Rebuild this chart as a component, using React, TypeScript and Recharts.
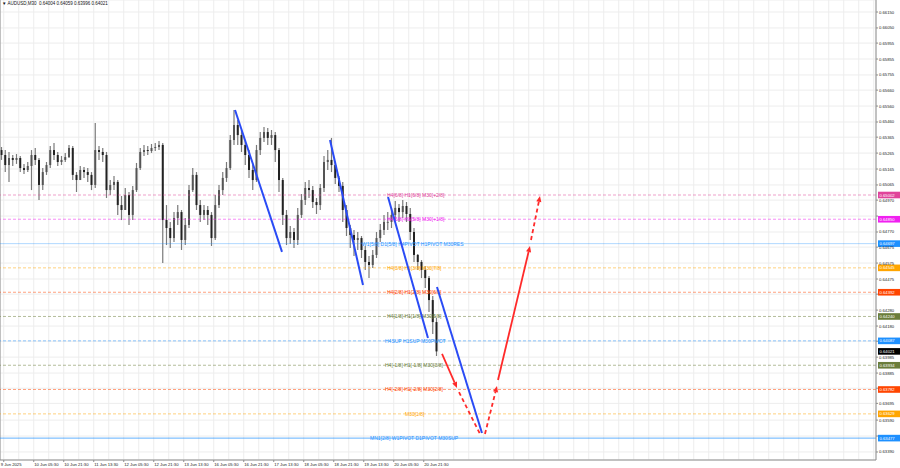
import React from 'react';
import { ComposedChart, Bar, XAxis, YAxis, CartesianGrid, ReferenceLine } from 'recharts';

const FONT = '"Liberation Sans", Arial, sans-serif';

const chartTitle = 'AUDUSD,M30  0.64004 0.64059 0.63996 0.64021';

// time axis (bar index of M30 bars -> label)
const xLabelBars = [4, 36, 68, 100, 132, 164, 196, 228, 260, 292, 324, 356, 388, 420, 452];
const xTickLabels = [
  '9 Jun 2025', '10 Jun 05:30', '10 Jun 21:30', '11 Jun 13:30', '12 Jun 05:30',
  '12 Jun 21:30', '13 Jun 13:30', '16 Jun 05:30', '16 Jun 21:30', '17 Jun 13:30',
  '18 Jun 05:30', '18 Jun 21:30', '19 Jun 13:30', '20 Jun 05:30', '20 Jun 21:30',
];
const gridTicks = Array.from({ length: 59 }, (_, k) => 4 + 16 * k);

const yTickLabels = [
  '0.66150', '0.66050', '0.65955', '0.65855', '0.65755', '0.65660', '0.65560', '0.65460',
  '0.65365', '0.65265', '0.65165', '0.65065', '0.64970', '0.64870', '0.64770', '0.64675',
  '0.64575', '0.64475', '0.64380', '0.64280', '0.64180', '0.64085', '0.63985', '0.63885',
  '0.63790', '0.63695', '0.63590', '0.63490', '0.63390',
];
const yTicks = yTickLabels.map(Number);
// price scale labels covered by the level boxes
const coveredTickLabels = ['0.64870', '0.64380', '0.64085', '0.63790', '0.63490'];

// 2-hour candles (4 x M30)
const firstOpen = 0.65284;
const closes = [
  0.65253, 0.65190, 0.65234, 0.65222, 0.65234, 0.65171, 0.65159, 0.65184, 0.65253, 0.65222,
  0.65065, 0.65146, 0.65190, 0.65284, 0.65253, 0.65209, 0.65222, 0.65240, 0.65297, 0.65128,
  0.65096, 0.65159, 0.65146, 0.65128, 0.65065, 0.65284, 0.65272, 0.65253, 0.65033, 0.65065,
  0.65084, 0.64939, 0.64908, 0.65002, 0.64877, 0.65033, 0.65171, 0.65272, 0.65284, 0.65278,
  0.65297, 0.65303, 0.65316, 0.64845, 0.64795, 0.64732, 0.64858, 0.64895, 0.64720, 0.64814,
  0.65033, 0.65128, 0.64939, 0.64877, 0.64908, 0.64877, 0.64732, 0.64939, 0.65033, 0.65109,
  0.65171, 0.65347, 0.65441, 0.65378, 0.65316, 0.65253, 0.65159, 0.65096, 0.65284, 0.65360,
  0.65397, 0.65360, 0.65378, 0.65284, 0.65096, 0.64877, 0.64732, 0.64770, 0.64720, 0.64877,
  0.64971, 0.65046, 0.65033, 0.64958, 0.64939, 0.65046, 0.65209, 0.65222, 0.65190, 0.65109,
  0.65059, 0.64908, 0.64795, 0.64751, 0.64720, 0.64732, 0.64657, 0.64582, 0.64563, 0.64626,
  0.64732, 0.64783, 0.64833, 0.64833, 0.64877, 0.64921, 0.64895, 0.64933, 0.64883, 0.64770,
  0.64626, 0.64582, 0.64532, 0.64481, 0.64343, 0.64205, 0.64021,
];
const highs = [
  0.65303, 0.65284, 0.65272, 0.65253, 0.65259, 0.65247, 0.65197, 0.65209, 0.65284, 0.65297,
  0.65234, 0.65171, 0.65209, 0.65309, 0.65328, 0.65272, 0.65247, 0.65266, 0.65316, 0.65309,
  0.65146, 0.65184, 0.65178, 0.65171, 0.65146, 0.65454, 0.65309, 0.65297, 0.65272, 0.65096,
  0.65121, 0.65096, 0.64996, 0.65046, 0.65021, 0.65059, 0.65203, 0.65297, 0.65316, 0.65309,
  0.65322, 0.65328, 0.65341, 0.65328, 0.64939, 0.64833, 0.64895, 0.64939, 0.64908, 0.64858,
  0.65065, 0.65171, 0.65146, 0.64971, 0.64939, 0.64933, 0.64895, 0.65002, 0.65065, 0.65146,
  0.65209, 0.65378, 0.65535, 0.65473, 0.65410, 0.65347, 0.65284, 0.65190, 0.65316, 0.65397,
  0.65429, 0.65422, 0.65410, 0.65397, 0.65297, 0.65109, 0.64908, 0.64808, 0.64795, 0.64921,
  0.65008, 0.65084, 0.65096, 0.65059, 0.64983, 0.65071, 0.65247, 0.65284, 0.65360, 0.65209,
  0.65121, 0.65084, 0.64939, 0.64814, 0.64783, 0.64770, 0.64745, 0.64682, 0.64619, 0.64657,
  0.64770, 0.64820, 0.64877, 0.64895, 0.64921, 0.64964, 0.64946, 0.64971, 0.64958, 0.64921,
  0.64795, 0.64632, 0.64594, 0.64557, 0.64494, 0.64369, 0.64231,
];
const lows = [
  0.65222, 0.65146, 0.65084, 0.65184, 0.65197, 0.65146, 0.65134, 0.65146, 0.65033, 0.65190,
  0.64971, 0.65033, 0.65128, 0.65171, 0.65222, 0.65184, 0.65190, 0.65209, 0.65234, 0.65096,
  0.65021, 0.65096, 0.65109, 0.65084, 0.65033, 0.65046, 0.65222, 0.65209, 0.64983, 0.65002,
  0.65033, 0.64877, 0.64845, 0.64908, 0.64814, 0.64845, 0.65021, 0.65159, 0.65247, 0.65253,
  0.65266, 0.65278, 0.65284, 0.64576, 0.64688, 0.64670, 0.64707, 0.64814, 0.64657, 0.64688,
  0.64795, 0.65021, 0.64908, 0.64833, 0.64845, 0.64814, 0.64682, 0.64720, 0.64921, 0.65002,
  0.65084, 0.65159, 0.65316, 0.65316, 0.65272, 0.65190, 0.65109, 0.65033, 0.65084, 0.65253,
  0.65335, 0.65316, 0.65316, 0.65209, 0.65021, 0.64814, 0.64688, 0.64695, 0.64670, 0.64688,
  0.64858, 0.64939, 0.64983, 0.64921, 0.64883, 0.64908, 0.65021, 0.65159, 0.65146, 0.65071,
  0.65021, 0.64833, 0.64745, 0.64670, 0.64619, 0.64657, 0.64607, 0.64532, 0.64481, 0.64544,
  0.64607, 0.64707, 0.64751, 0.64783, 0.64795, 0.64845, 0.64833, 0.64858, 0.64833, 0.64720,
  0.64582, 0.64532, 0.64481, 0.64419, 0.64268, 0.64130, 0.63992,
];

const candles = closes.map((close, i) => ({
  t: 4 * i + 2,
  open: i === 0 ? firstOpen : closes[i - 1],
  high: highs[i],
  low: lows[i],
  close,
}));

// murrey-style levels
const levelPrices = [0.65002, 0.64850, 0.64697, 0.64545, 0.64392, 0.64240, 0.64087, 0.63934, 0.63782, 0.63629, 0.63477];
const levelTexts = [
  'H4[6/8] H1[6/8] M30[+2/8]',
  'H4[5/8] H1[5/8] M30[+1/8]',
  'W1[5/8] D1[5/8] H4PIVOT H1PIVOT M30RES',
  'H4[3/8] H1[3/8] M30[7/8]',
  'H4[2/8] H1[2/8] M30[6/8]',
  'H4[1/8] H1[1/8] M30[5/8]',
  'H4SUP H1SUP M30PIVOT',
  'H4[-1/8] H1[-1/8] M30[3/8]',
  'H4[-2/8] H1[-2/8] M30[2/8]',
  'M30[1/8]',
  'MN1[2/8] W1PIVOT D1PIVOT M30SUP',
];
const lastPrice = 0.64021;

// styles / positions for levels
const levelColors = ['#e0449a', '#f020f0', '#1e90ff', '#ffa500', '#ff4500', '#6b7d3a', '#1e90ff', '#6b7d3a', '#ff4500', '#ffa500', '#1e90ff'];
const levelSolid = [false, false, true, false, false, false, false, false, false, false, true];
const levelOpacity = [0.5, 0.5, 0.35, 0.5, 0.5, 0.5, 0.5, 0.5, 0.5, 0.5, 0.7];
const levelTextX = [387, 387, 362, 387, 387, 387, 385, 385, 385, 405, 370];

// trend lines [bar, price]
const trendFrom = [[250.7, 0.65535], [352, 0.65347], [413.9, 0.6499], [466.1, 0.64425]];
const trendTo = [[300.8, 0.64645], [387.2, 0.64437], [456.5, 0.64105], [514.1, 0.63509]];

// projection path
const projFrom = [[471.5, 0.64005], [489.6, 0.63766], [517.3, 0.63503], [531.2, 0.63842], [566.4, 0.6472]];
const projTo = [[487.5, 0.63791], [512, 0.63503], [530.1, 0.63804], [565.3, 0.64682], [576, 0.64996]];
const projDashed = [false, true, true, false, true];
const projHead = [true, false, true, true, true];

function Candle(props: any) {
  const { x, y, width, height, payload } = props;
  if (!payload || y == null || height == null) return <g />;
  const top = Math.min(y, y + height);
  const h = Math.abs(height);
  const span = payload.high - payload.low || 1e-9;
  const toY = (v: number) => top + ((payload.high - v) / span) * h;
  const cx = x + width / 2;
  const yo = toY(payload.open);
  const yc = toY(payload.close);
  const bodyTop = Math.min(yo, yc);
  const bodyH = Math.max(Math.abs(yc - yo), 0.8);
  return (
    <g>
      <line x1={cx} x2={cx} y1={top} y2={top + h} stroke="#7a7a7a" strokeWidth={1.2} />
      <rect x={cx - 1} y={bodyTop} width={2} height={bodyH} fill={payload.close >= payload.open ? '#555' : '#222'} />
    </g>
  );
}

function TimeTick(props: any) {
  const { x, payload } = props;
  const idx = xLabelBars.indexOf(payload.value);
  if (idx < 0) return <g />;
  return (
    <g>
      <line x1={x} x2={x} y1={460} y2={462} stroke="#8c8c8c" />
      <text x={idx === 0 ? x - 3 : x + 0.5} y={464} fontSize={4.2} fill="#222" fontFamily={FONT} dominantBaseline="central">
        {xTickLabels[idx]}
      </text>
    </g>
  );
}

function PriceTick(props: any) {
  const { x, y, payload } = props;
  const i = yTicks.indexOf(payload.value);
  const label = yTickLabels[i];
  if (coveredTickLabels.includes(label)) return <g />;
  return (
    <text x={x} y={y} fontSize={4.2} fill="#222" fontFamily={FONT} dominantBaseline="central">
      {label}
    </text>
  );
}

function levelLabel(i: number) {
  return (p: any) => {
    const vb = p.viewBox || {};
    const y = vb.y;
    const right = vb.x + vb.width;
    return (
      <g>
        <text x={vb.x + levelTextX[i]} y={y} fontSize={5} fill={levelColors[i]} fontFamily={FONT} dominantBaseline="central">
          {levelTexts[i]}
        </text>
        <rect x={right + 2} y={y - 3.3} width={22} height={6.6} fill={levelColors[i]} />
        <text x={right + 3.5} y={y} fontSize={4.2} fill="#fff" fontFamily={FONT} dominantBaseline="central">
          {levelPrices[i].toFixed(5)}
        </text>
      </g>
    );
  };
}

function lastLabel(p: any) {
  const vb = p.viewBox || {};
  const right = vb.x + vb.width;
  return (
    <g>
      <rect x={right + 2} y={vb.y - 3.3} width={22} height={6.6} fill="#000" />
      <text x={right + 3.5} y={vb.y} fontSize={4.2} fill="#fff" fontFamily={FONT} dominantBaseline="central">
        {lastPrice.toFixed(5)}
      </text>
    </g>
  );
}

function segmentShape(color: string, width: number, dashed: boolean, head: boolean) {
  return (p: any) => {
    const { x1, y1, x2, y2 } = p;
    if (x1 == null || y1 == null) return <g />;
    const dx = x2 - x1;
    const dy = y2 - y1;
    const len = Math.hypot(dx, dy) || 1;
    const ux = dx / len;
    const uy = dy / len;
    const hl = 6;
    const hw = 2.6;
    const bx = x2 - ux * hl;
    const by = y2 - uy * hl;
    return (
      <g>
        <line
          x1={x1}
          y1={y1}
          x2={head ? bx : x2}
          y2={head ? by : y2}
          stroke={color}
          strokeWidth={width}
          strokeDasharray={dashed ? '4 3' : undefined}
        />
        {head && (
          <polygon points={`${x2},${y2} ${bx - uy * hw},${by + ux * hw} ${bx + uy * hw},${by - ux * hw}`} fill={color} />
        )}
      </g>
    );
  };
}

export default function App() {
  return (
    <div style={{ position: 'fixed', left: 0, top: 0, width: 900, height: 468, background: '#fff' }}>
      <ComposedChart width={900} height={468} data={candles} margin={{ top: 0, right: 0, bottom: 0, left: 0 }}>
        <CartesianGrid stroke="#ededed" />
        <XAxis
          dataKey="t"
          type="number"
          domain={[0, 934.4]}
          allowDataOverflow
          ticks={gridTicks}
          interval={0}
          tick={<TimeTick />}
          tickLine={false}
          axisLine={{ stroke: '#8c8c8c' }}
          height={8}
        />
        <YAxis
          orientation="right"
          type="number"
          domain={[0.633397, 0.662253]}
          allowDataOverflow
          ticks={yTicks}
          interval={0}
          tick={<PriceTick />}
          tickSize={2}
          tickMargin={1}
          width={24}
          axisLine={{ stroke: '#8c8c8c' }}
          tickLine={{ stroke: '#8c8c8c' }}
        />
        <ReferenceLine x={0} stroke="#8c8c8c" />
        {levelPrices.map((price, i) => (
          <ReferenceLine
            key={'lv' + i}
            y={price}
            stroke={levelColors[i]}
            strokeOpacity={levelOpacity[i]}
            strokeDasharray={levelSolid[i] ? undefined : '3 2'}
            label={levelLabel(i)}
          />
        ))}
        <ReferenceLine y={lastPrice} stroke="#000" strokeOpacity={0} label={lastLabel} />
        <Bar dataKey={(d: any) => [d.low, d.high]} shape={Candle} barSize={3} isAnimationActive={false} />
        {trendFrom.map((from, i) => (
          <ReferenceLine
            key={'tr' + i}
            segment={[{ x: from[0], y: from[1] }, { x: trendTo[i][0], y: trendTo[i][1] }]}
            shape={segmentShape('#2a4bf5', 2, false, false)}
          />
        ))}
        {projFrom.map((from, i) => (
          <ReferenceLine
            key={'pj' + i}
            segment={[{ x: from[0], y: from[1] }, { x: projTo[i][0], y: projTo[i][1] }]}
            shape={segmentShape('#ff2a2a', 1.8, projDashed[i], projHead[i])}
          />
        ))}
      </ComposedChart>
      <div
        style={{
          position: 'absolute',
          left: 2,
          top: 1,
          fontSize: 9,
          fontFamily: FONT,
          color: '#111',
          whiteSpace: 'pre',
          transform: 'scale(0.5)',
          transformOrigin: 'left top',
        }}
      >
        {'\u25BC ' + chartTitle}
      </div>
    </div>
  );
}
